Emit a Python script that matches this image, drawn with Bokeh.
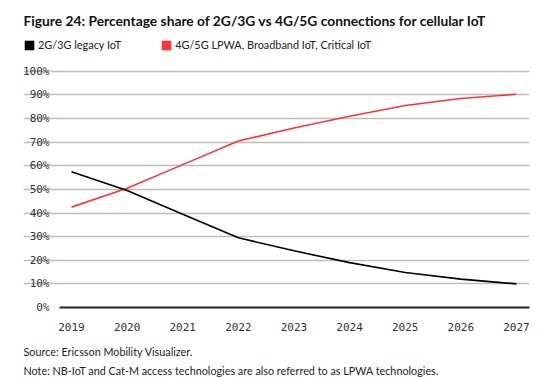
from bokeh.plotting import figure
from bokeh.models import Range1d, FixedTicker, PrintfTickFormatter, Title, Legend, LegendItem
from bokeh.embed import file_html
from bokeh.resources import INLINE

years = [2019, 2020, 2021, 2022, 2023, 2024, 2025, 2026, 2027]
legacy = [57.5, 49.5, 39.5, 29.5, 24, 19, 14.8, 12, 10]
lpwa = [42.5, 50.5, 60.5, 70.5, 76, 81, 85.5, 88.5, 90.3]
title_text = "Figure 24: Percentage share of 2G/3G vs 4G/5G connections for cellular IoT"
legend_labels = ["2G/3G legacy IoT", "4G/5G LPWA, Broadband IoT, Critical IoT"]
footer = ["Source: Ericsson Mobility Visualizer.",
          "Note: NB-IoT and Cat-M access technologies are also referred to as LPWA technologies."]

BLACK = "#000000"
RED = "#ff3333"
FONT = "Lato"

X0, X1 = 2018.784, 2027.234   # extent of gridlines / axis line
p = figure(width=540, height=378, output_backend="svg", toolbar_location=None,
           x_range=Range1d(2018.137, X1), y_range=Range1d(0, 113.9),
           min_border_left=23, min_border_right=11, min_border_top=37, min_border_bottom=71)
p.outline_line_color = None

r_red = p.line(years, lpwa, line_color=RED, line_width=1.6)
r_black = p.line(years, legacy, line_color=BLACK, line_width=1.6)
# zero-size rects: only used to give the legend square keys
k_black = p.rect(years, legacy, width=0, height=0, fill_color=BLACK, line_color=None)
k_red = p.rect(years, lpwa, width=0, height=0, fill_color=RED, line_color=None)

p.xaxis.ticker = FixedTicker(ticks=years)
p.xaxis.bounds = (X0, X1)
p.xaxis.major_tick_line_color = None
p.xaxis.minor_tick_line_color = None
p.xaxis.axis_line_color = "#222222"
p.xaxis.axis_line_width = 1.8
p.xaxis.major_label_text_font = "DejaVu Sans Mono"
p.xaxis.major_label_text_font_size = "11px"
p.xaxis.major_label_text_color = "#333333"
p.xaxis.major_label_standoff = 9

p.yaxis.ticker = FixedTicker(ticks=list(range(0, 101, 10)))
p.yaxis.formatter = PrintfTickFormatter(format="%d%%")
p.yaxis.major_tick_line_color = None
p.yaxis.minor_tick_line_color = None
p.yaxis.axis_line_color = None
p.yaxis.major_label_text_font = "DejaVu Sans Mono"
p.yaxis.major_label_text_font_size = "11px"
p.yaxis.major_label_text_color = "#333333"
p.yaxis.major_label_standoff = -32

p.xgrid.grid_line_color = None
p.ygrid.ticker = FixedTicker(ticks=list(range(10, 101, 10)))
p.ygrid.bounds = (X0, X1)
p.ygrid.grid_line_color = "#bdbdbd"
p.ygrid.grid_line_width = 1.5

legend = Legend(items=[LegendItem(label=legend_labels[0], renderers=[k_black]),
                       LegendItem(label=legend_labels[1], renderers=[k_red])],
                orientation="horizontal", location="top_left",
                glyph_width=12, glyph_height=12, label_height=12, label_standoff=3,
                spacing=39, padding=0, margin=0, border_line_color=None,
                background_fill_alpha=0, label_text_font=FONT,
                label_text_font_size="10.9px", label_text_color="#222222")
p.add_layout(legend)
p.add_layout(Title(text=title_text, align="left", standoff=19, text_font=FONT,
                   text_font_style="bold", text_font_size="13.8px", text_color="#111111"),
             "above")
p.add_layout(Title(text=footer[0], align="left", standoff=18, text_font=FONT,
                   text_font_style="normal", text_font_size="10.8px", text_color="#222222"),
             "below")
p.add_layout(Title(text=footer[1], align="left", standoff=-10, text_font=FONT,
                   text_font_style="normal", text_font_size="10.8px", text_color="#222222"),
             "below")

open("out.html", "w").write(file_html(p, INLINE))
